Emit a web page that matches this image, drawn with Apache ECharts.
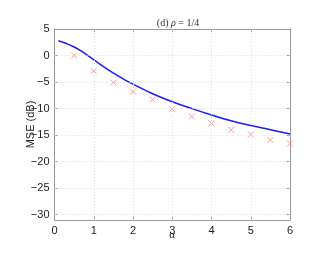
<!DOCTYPE html>
<html><head><meta charset="utf-8">
<script src="https://cdn.jsdelivr.net/npm/echarts@6/dist/echarts.min.js"></script>
<style>html,body{margin:0;padding:0;background:#fff}#c{width:334px;height:258px}</style>
</head><body><div id="c"></div>
<script>
var lineAlpha = [0.1,0.25,0.5,0.75,1,1.25,1.5,1.75,2,2.5,3,3.5,4,4.5,5,5.5,6];
var lineMSE   = [2.8,2.4,1.6,0.5,-0.8,-2.1,-3.3,-4.4,-5.4,-7.2,-8.7,-10.0,-11.2,-12.3,-13.2,-14.0,-14.8];
var markAlpha = [0.5,1,1.5,2,2.5,3,3.5,4,4.5,5,5.5,6];
var markMSE   = [0,-2.9,-5.1,-6.8,-8.3,-10.1,-11.5,-12.8,-14.0,-14.9,-15.9,-16.6];
var xTicks = [0,1,2,3,4,5,6];
var yTicks = [-30,-25,-20,-15,-10,-5,0,5];

var chart = echarts.init(document.getElementById('c'), null, {renderer:'canvas'});
var frame = {show:true, onZero:false, lineStyle:{color:'#999', width:1}};
var tickX = {show:true, inside:true, length:3, lineStyle:{color:'#999'}};
var tickY = {show:true, inside:true, length:3, customValues:yTicks, lineStyle:{color:'#999'}};
var lab = {color:'#222', fontFamily:'Liberation Sans', fontSize:11};
var gridStyle = {color:'#ddd', type:[1,2], width:1};
function fmtY(v){ return String(v).replace('-', '\u2212'); }
var gridLines = yTicks.filter(function(v){return v>-31 && v<5;}).map(function(v){return {yAxis:v};})
  .concat(xTicks.filter(function(v){return v>0 && v<6;}).map(function(v){return {xAxis:v};}));
chart.setOption({
  animation:false,
  title:{text:'(d) {i|\u03c1} = 1/4', left:173, top:13, textAlign:'center',
    textStyle:{fontFamily:'Liberation Serif', fontSize:10, fontWeight:'normal', color:'#333',
      rich:{i:{fontFamily:'Liberation Serif', fontStyle:'italic', fontSize:10, color:'#333'}}}},
  grid:{left:54.5, right:44, top:29, bottom:38},
  xAxis:[
    {type:'value', min:0, max:6, interval:1, axisLine:frame, axisTick:tickX, splitLine:{show:false},
     axisLabel:Object.assign({margin:5}, lab),
     name:'\u03b1', nameLocation:'middle', nameGap:10, nameMoveOverlap:false,
     nameTextStyle:{fontFamily:'Liberation Serif', fontSize:11, color:'#222'}},
    {type:'value', position:'top', min:0, max:6, interval:1, axisLine:frame, axisTick:tickX,
     splitLine:{show:false}, axisLabel:{show:false}}
  ],
  yAxis:[
    {type:'value', min:-31, max:5, axisLine:frame, axisTick:tickY, splitLine:{show:false},
     axisLabel:Object.assign({margin:5, formatter:fmtY, customValues:yTicks}, lab),
     name:'MSE (dB)', nameLocation:'middle', nameGap:18, nameMoveOverlap:false,
     nameTextStyle:{fontFamily:'Liberation Sans', fontSize:11, color:'#222'}},
    {type:'value', position:'right', min:-31, max:5, axisLine:frame, axisTick:tickY,
     splitLine:{show:false}, axisLabel:{show:false}}
  ],
  series:[
    {type:'line', data:[], markLine:{silent:true, symbol:['none','none'], label:{show:false},
       lineStyle:gridStyle, data:gridLines}},
    {type:'line', data:lineAlpha.map(function(a,i){return [a,lineMSE[i]];}), smooth:true,
     showSymbol:false, lineStyle:{color:'#1a1aff', width:1.5}},
    {type:'scatter', data:markAlpha.map(function(a,i){return [a,markMSE[i]];}),
     symbol:'path://M0,0L10,10M10,0L0,10', symbolSize:6,
     itemStyle:{color:'none', borderColor:'#ff8080', borderWidth:1}}
  ]
});
</script></body></html>
